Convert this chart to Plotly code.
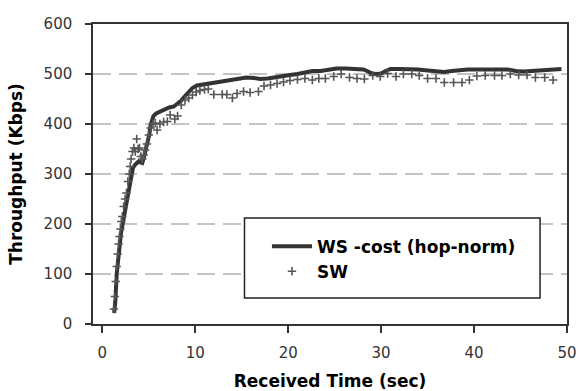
import plotly.graph_objects as go

# WS-cost (hop-norm): received time (s) vs. throughput (Kbps)
ws_time = [1.27, 1.4, 1.55, 1.7, 1.85, 2.0, 2.2, 2.4, 2.6, 2.8, 3.0, 3.15, 3.3, 3.5,
           3.7, 3.9, 4.1, 4.3, 4.5, 4.7, 4.9, 5.05, 5.2, 5.35, 5.5, 5.8, 6.2, 6.7,
           7.2, 7.7, 8.1, 8.5, 8.9, 9.3, 9.7, 10.2, 10.8, 11.5, 12.2, 13.0, 13.8,
           14.6, 15.5, 16.3, 17.0, 17.8, 18.6, 19.4, 20.2, 21.0, 21.8, 22.6, 23.5,
           24.3, 25.2, 26.2, 27.2, 28.1, 28.6, 29.0, 29.5, 30.0, 30.5, 31.0, 32.0,
           33.0, 34.0, 35.0, 36.0, 36.8, 37.6, 38.5, 39.3, 40.0, 41.0, 42.0, 43.0,
           43.6, 44.5, 45.3, 46.2, 47.2, 48.0, 48.8, 49.4]
ws_kbps = [22, 45, 100, 130, 158, 180, 201, 222, 245, 265, 285, 301, 312, 318,
           322, 325, 323, 322, 335, 350, 362, 378, 398, 412, 416, 421, 425, 429,
           433, 435, 440, 447, 456, 465, 472, 477, 479, 481, 483, 486, 488,
           490, 493, 492, 490, 491, 494, 496, 498, 500, 503, 506, 506,
           509, 511, 511, 510, 509, 505, 501, 500, 501, 506, 510, 510,
           510, 509, 507, 505, 504, 506, 508, 509, 509, 509, 510, 509,
           509, 506, 505, 506, 507, 508, 510, 510]

# SW: received time (s) vs. throughput (Kbps)
sw_time = [1.25, 1.35, 1.45, 1.55, 1.65, 1.75, 1.85, 1.95, 2.05, 2.15, 2.3, 2.45,
           2.6, 2.75, 2.9, 3.0, 3.1, 3.25, 3.4, 3.55, 3.7, 3.85, 4.0, 4.15, 4.3,
           4.45, 4.6, 4.8, 5.0, 5.2, 5.45, 5.7, 5.9, 6.2, 6.6, 7.0, 7.3, 7.8, 8.1,
           8.5, 8.9, 9.3, 9.7, 10.1, 10.5, 11.0, 11.4, 12.0, 12.9, 13.4, 14.0,
           14.5, 15.2, 15.9, 16.8, 17.4, 18.1, 18.8, 19.5, 20.2, 21.0, 21.8, 22.6,
           23.3, 24.0, 24.9, 25.7, 26.6, 27.4, 28.2, 29.1, 29.9, 30.7, 31.6, 32.4,
           33.3, 34.1, 35.0, 35.9, 36.8, 37.8, 38.7, 39.5, 40.3, 41.2, 42.2, 43.0,
           43.9, 44.8, 45.7, 46.6, 47.6, 48.5]
sw_kbps = [30, 55, 85, 115, 140, 160, 175, 190, 205, 215, 235, 250,
           262, 285, 300, 315, 330, 345, 352, 345, 370, 350, 352, 335, 330,
           338, 348, 360, 378, 392, 400, 402, 388, 400, 404, 405, 418, 410, 416,
           438, 448, 452, 458, 464, 467, 469, 470, 459, 459, 459, 452,
           461, 465, 463, 465, 476, 478, 481, 484, 487, 489, 491, 488,
           491, 491, 495, 500, 493, 491, 490, 497, 495, 501, 495, 500,
           500, 497, 491, 491, 483, 483, 483, 488, 496, 497, 497, 497,
           500, 498, 498, 493, 493, 488]

x_ticks = [0, 10, 20, 30, 40, 50]
y_ticks = [0, 100, 200, 300, 400, 500, 600]

FONT = "DejaVu Sans"

fig = go.Figure()
fig.add_trace(go.Scatter(
    x=ws_time, y=ws_kbps, mode="lines", name="WS -cost (hop-norm)",
    line=dict(color="#333333", width=4),
))
fig.add_trace(go.Scatter(
    x=sw_time, y=sw_kbps, mode="markers", name="SW",
    marker=dict(symbol="cross-thin", size=6, line=dict(color="#555555", width=1.6)),
))

# white framed box behind the legend
fig.add_shape(
    type="rect", xref="x", yref="y", x0=15.3, x1=47.1, y0=52, y1=212,
    line=dict(color="#222222", width=1.5), fillcolor="white", layer="between",
)

axis_common = dict(
    showline=True, linecolor="#333333", linewidth=1.5, mirror=True,
    ticks="outside", tickcolor="#333333", tickwidth=1.5,
    tickfont=dict(family=FONT, size=15, color="#333333"),
    zeroline=False,
)

fig.update_xaxes(
    range=[-1, 50], tickvals=x_ticks, ticklen=7, showgrid=False, ticklabelstandoff=7,
    title=dict(text="Received Time (sec)", font=dict(family=FONT, size=17, color="black",
                                                     weight="bold"), standoff=16),
    **axis_common,
)
fig.update_yaxes(
    range=[0, 600], tickvals=y_ticks, ticklen=6, ticklabelstandoff=10,
    showgrid=True, gridcolor="#c4c4c4", gridwidth=1.5, griddash="18px,8px",
    title=dict(text="Throughput (Kbps)", font=dict(family=FONT, size=17, color="black",
                                                   weight="bold"), standoff=17),
    **axis_common,
)

fig.update_layout(
    width=579, height=391,
    margin=dict(l=93, r=12, t=24, b=67, autoexpand=False),
    paper_bgcolor="white", plot_bgcolor="white",
    showlegend=True,
    legend=dict(
        x=0.367, y=0.318, xanchor="left", yanchor="top",
        bgcolor="rgba(0,0,0,0)", borderwidth=0,
        font=dict(family=FONT, size=17, color="black", weight="bold"),
        tracegroupgap=0, itemwidth=40,
    ),
)

fig.write_html("out.html")
